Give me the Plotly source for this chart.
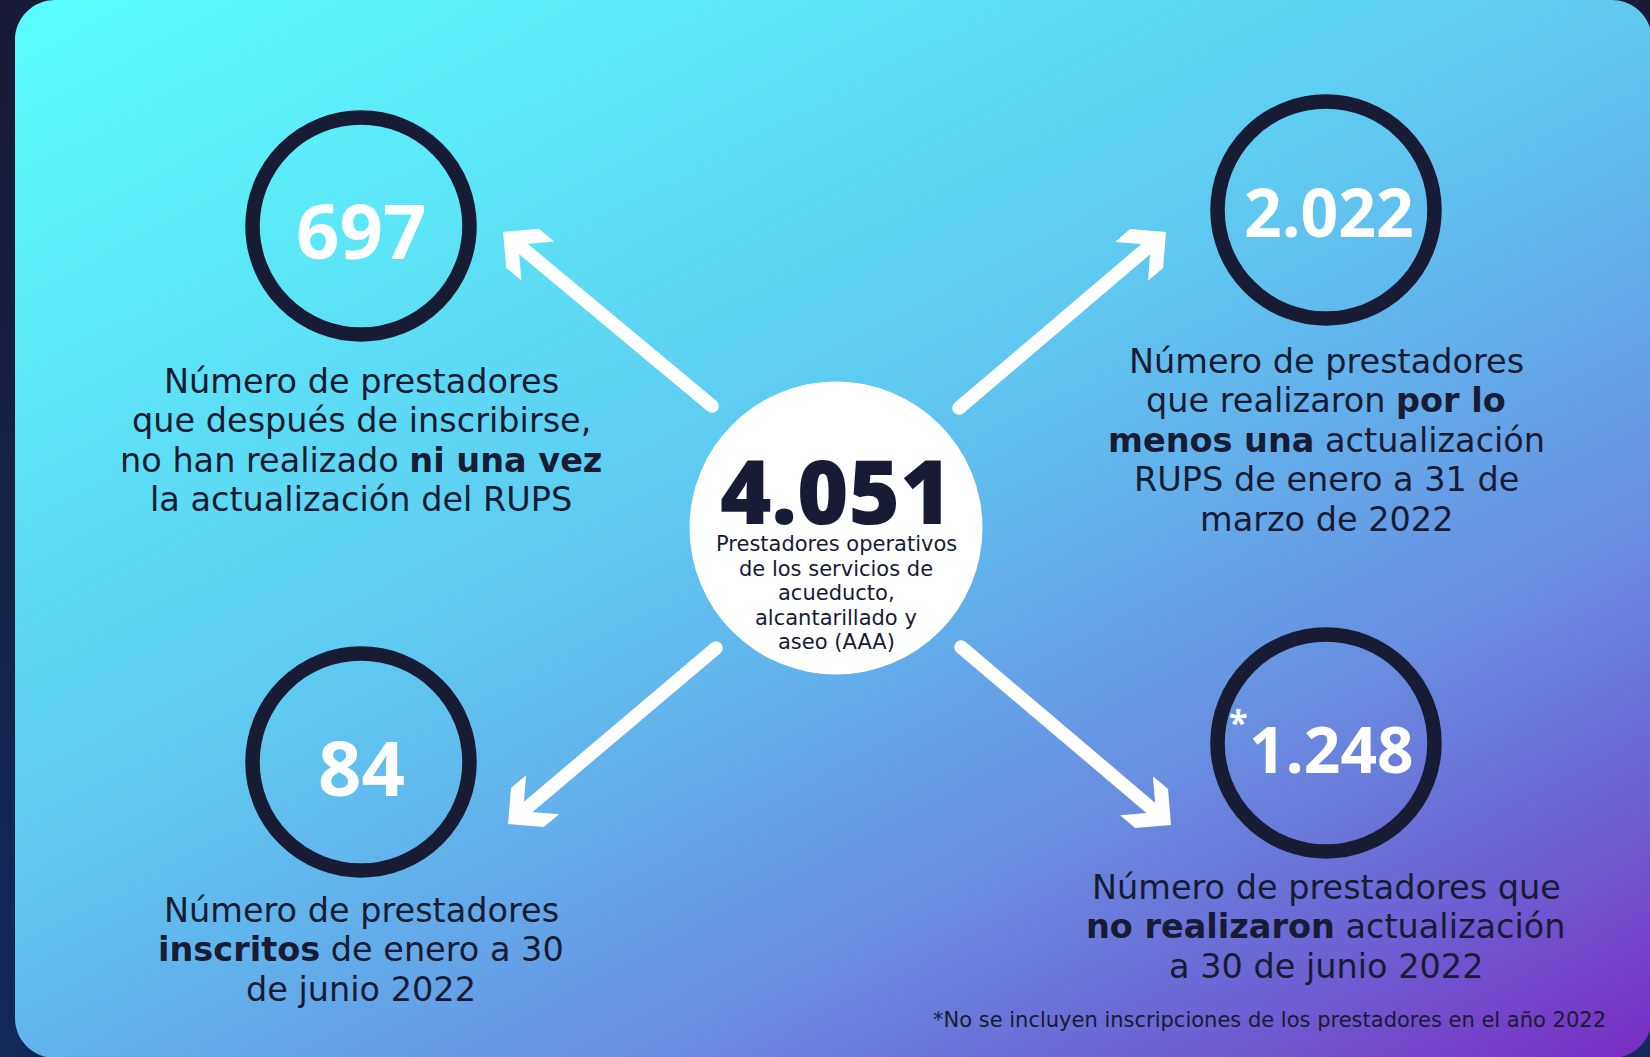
import numpy as np
import plotly.graph_objects as go

W, H = 1650, 1057

# datos de la infografía
total = "4.051"
total_desc = ["Prestadores operativos", "de los servicios de", "acueducto,", "alcantarillado y", "aseo (AAA)"]

valores = ["697", "2.022", "84", "1.248"]
descripciones = [
    ["Número de prestadores", "que después de inscribirse,",
     "no han realizado <b>ni una vez</b>", "la actualización del RUPS"],
    ["Número de prestadores", "que realizaron <b>por lo</b>",
     "<b>menos una</b> actualización", "RUPS de enero a 31 de", "marzo de 2022"],
    ["Número de prestadores", "<b>inscritos</b> de enero a 30", "de junio 2022"],
    ["Número de prestadores que", "<b>no realizaron</b> actualización", "a 30 de junio 2022"],
]
nota = "*No se incluyen inscripciones de los prestadores en el año 2022"

# layout
NAVY = "#171b33"
centros = [(361, 226), (1326, 210), (361, 762), (1326, 743)]
num_pos = [(361, 229), (1329, 211), (361, 766), (1331, 748)]
num_size = [76, 66, 76, 64]
desc_y0 = [381, 361, 910, 887]
flechas = [((712, 406), (503, 232)), ((959, 408), (1166, 232)),
           ((716, 648), (508, 824)), ((961, 647), (1171, 825))]
CX, CY = 836, 528

fig = go.Figure()

# fondo degradado de la tarjeta
gx = np.array([-60.0, 1720.0])
gy = np.array([-60.0, 1120.0])
gz = 0.45 * (gx[None, :] - 15) / 1635 + 0.55 * gy[:, None] / 1057
fig.add_trace(go.Heatmap(
    x=gx, y=gy, z=gz, zmin=0, zmax=1, zsmooth="best", showscale=False, hoverinfo="skip",
    colorscale=[[0, "#5afdfe"], [0.2, "#5ce8f8"], [0.45, "#5fc8f0"], [0.58, "#63aeea"],
                [0.72, "#688ee0"], [0.86, "#6d62d3"], [1, "#7a2cc2"]],
))
# franja oscura izquierda
fig.add_trace(go.Scatter(
    x=[0, 15, 15, 0, 0], y=[0, 0, H, H, 0], mode="lines", line=dict(width=0),
    fill="toself", fillgradient=dict(type="vertical", start=0, stop=H,
                                     colorscale=[[0, "#181a33"], [1, "#13295a"]]),
    hoverinfo="skip", showlegend=False,
))

shapes = []
# esquinas redondeadas de la tarjeta
R, k = 40, 0.5523 * 40
L0, T0, R0, B0 = 15, 0, 1652, 1058
esquinas = [
    (f"M {L0},{T0} L {L0+R},{T0} C {L0+R-k},{T0} {L0},{T0+R-k} {L0},{T0+R} Z", "#181b35"),
    (f"M {R0},{T0} L {R0-R},{T0} C {R0-R+k},{T0} {R0},{T0+R-k} {R0},{T0+R} Z", "#181b37"),
    (f"M {L0},{B0} L {L0+R},{B0} C {L0+R-k},{B0} {L0},{B0-R+k} {L0},{B0-R} Z", "#142857"),
    (f"M {R0},{B0} L {R0-R},{B0} C {R0-R+k},{B0} {R0},{B0-R+k} {R0},{B0-R} Z", "#152a58"),
]
for p, c in esquinas:
    shapes.append(dict(type="path", path=p, fillcolor=c, line=dict(width=0)))

# anillos
ro = 116 - 7.5
for cx, cy in centros:
    shapes.append(dict(type="circle", x0=cx - ro, x1=cx + ro, y0=cy - ro, y1=cy + ro,
                       line=dict(color=NAVY, width=14.5)))

# círculo central
rc = 146.5
shapes.append(dict(type="circle", x0=CX - rc, x1=CX + rc, y0=CY - rc, y1=CY + rc,
                   fillcolor="white", line=dict(width=0)))


def rot(v, a):
    c, s = np.cos(a), np.sin(a)
    return np.array([c * v[0] - s * v[1], s * v[0] + c * v[1]])


# flechas
for tail, tip in flechas:
    t = np.array(tip, float)
    s = np.array(tail, float)
    b = (s - t) / np.linalg.norm(s - t)
    a1, a2 = rot(b, np.pi / 4), rot(b, -np.pi / 4)
    L, w = 36, 14
    c = w * np.sqrt(2)
    pts = [t, t + L * a1, t + L * a1 + c * b, t + c * b, t + L * a2 + c * b, t + L * a2]
    path = "M " + " L ".join(f"{p[0]:.1f},{p[1]:.1f}" for p in pts) + " Z"
    shapes.append(dict(type="path", path=path, fillcolor="white", line=dict(width=0)))
    e = t + (c - 4) * b
    shapes.append(dict(type="line", x0=s[0], y0=s[1], x1=e[0], y1=e[1],
                       line=dict(color="white", width=13.5)))
    shapes.append(dict(type="circle", x0=s[0] - 6.75, x1=s[0] + 6.75, y0=s[1] - 6.75, y1=s[1] + 6.75,
                       fillcolor="white", line=dict(width=0)))

annotations = []


def texto(t, x, y, size, family, color=NAVY, weight=None, xanchor="center"):
    f = dict(size=size, family=family, color=color)
    if weight:
        f["weight"] = weight
    annotations.append(dict(text=t, x=x, y=y, xref="x", yref="y", showarrow=False,
                            xanchor=xanchor, yanchor="middle", font=f))


for v, (x, y), sz in zip(valores, num_pos, num_size):
    texto(v, x, y, sz, "Open Sans", color="white", weight=700)
texto("*", 1238, 722, 34, "Open Sans", color="white", weight=700)

for lines, (cx, _), y0 in zip(descripciones, centros, desc_y0):
    for i, ln in enumerate(lines):
        texto(ln, cx, y0 + i * 39.5, 33.5, "DejaVu Sans")

texto(total, CX, 490, 88, "Open Sans", weight=800)
for i, ln in enumerate(total_desc):
    texto(ln, CX, 544 + i * 24.5, 21, "DejaVu Sans")

texto(nota, 1608, 1020, 21, "DejaVu Sans", xanchor="right")

fig.update_layout(
    width=W, height=H, margin=dict(l=0, r=0, t=0, b=0),
    paper_bgcolor="#161f40", plot_bgcolor="#161f40",
    xaxis=dict(range=[0, W], visible=False, fixedrange=True),
    yaxis=dict(range=[H, 0], visible=False, fixedrange=True),
    shapes=shapes, annotations=annotations, showlegend=False,
)
fig.write_html("out.html", config={"displayModeBar": False},
               post_script="document.body.style.margin='0';document.body.style.background='#161f40';")
